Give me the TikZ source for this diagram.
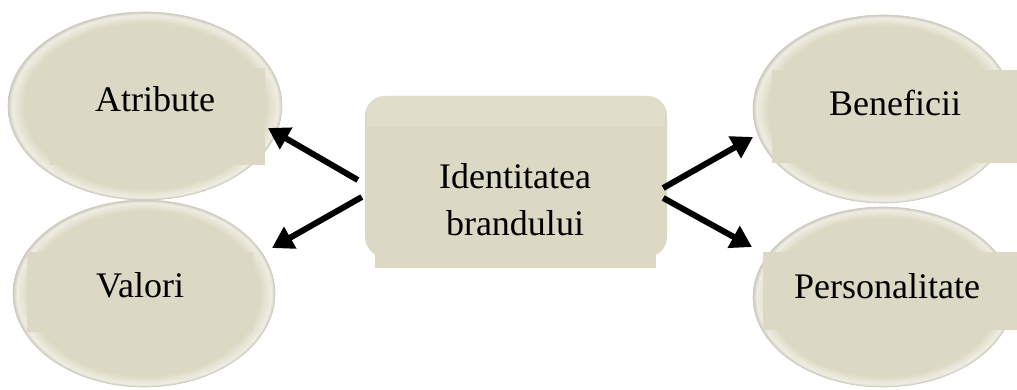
\documentclass[tikz,border=0pt]{standalone}
\usepackage{fontspec}
\setmainfont{Liberation Serif}
\usetikzlibrary{shapes.geometric,arrows.meta,calc}
\definecolor{beige}{RGB}{219,216,195}
\definecolor{rim}{RGB}{238,237,226}
\definecolor{rimdark}{RGB}{205,203,190}
\definecolor{topband}{RGB}{224,221,202}
\pgfdeclareradialshading{ovalshade}{\pgfpoint{0bp}{0bp}}{color(0bp)=(beige); color(22bp)=(beige); color(24.3bp)=(rim); color(25bp)=(rimdark); color(50bp)=(rimdark)}
\tikzset{
  oval/.style={ellipse,inner sep=0pt,shading=ovalshade,draw=rimdark,line width=0.6pt},
  label/.style={anchor=base,inner sep=0pt,font=\fontsize{36}{47}\selectfont},
  arr/.style={line width=6pt,-{Triangle[length=21pt,width=24pt]}},
}
\begin{document}
\begin{tikzpicture}[x=1pt,y=1pt]
\useasboundingbox (0,0) rectangle (1017,389);
% ellipses
\node[oval,minimum width=274pt,minimum height=188pt] (atr) at (145,283) {};
\node[oval,minimum width=262pt,minimum height=187pt] (val) at (144,95.5) {};
\node[oval,minimum width=260pt,minimum height=188pt] (ben) at (883,280) {};
\node[oval,minimum width=260pt,minimum height=180pt] (per) at (883,92) {};
% text panels
\fill[beige] (50,224) rectangle (265,321);
\fill[beige] (27,57) rectangle (253,137);
\fill[beige] (772,226) rectangle (1017,319);
\fill[beige] (763,59) rectangle (1017,137);
% center box
\node[rounded corners=20pt,fill=beige,minimum width=302pt,minimum height=161pt,inner sep=0pt] (c) at (516,212.5) {};
\fill[topband,rounded corners=18pt] (367,293) -- (367,247) -- (665,247) -- (665,293) -- cycle;
\fill[beige] (367,247) rectangle (665,262);
\fill[beige] (375,121) rectangle (656,247);
% labels
\node[label] (tatr) at (155,277) {Atribute};
\node[label] (tval) at (140,92) {Valori};
\node[label] (tben) at (895,273) {Beneficii};
\node[label] (tper) at (887,91) {Personalitate};
\node[label] (tc1) at (515,201) {Identitatea};
\node[label] (tc2) at (515,154) {brandului};
% arrows
\draw[arr] ($(c.west)+(-7,-3.5)$) -- ($(atr.center)+(123,-22)$);
\draw[arr] ($(c.west)+(-3,-20.5)$) -- ($(val.center)+(128,45.5)$);
\draw[arr] ($(c.east)+(-4,-11.5)$) -- ($(ben.center)+(-130,-28)$);
\draw[arr] ($(c.east)+(-4,-21.5)$) -- ($(per.center)+(-131,50)$);
\end{tikzpicture}
\end{document}
